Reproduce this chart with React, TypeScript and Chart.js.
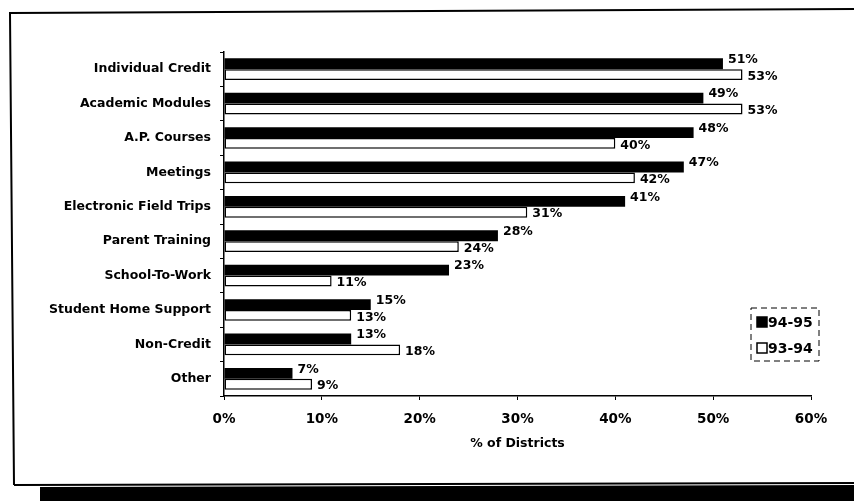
import React, { useEffect, useRef } from "react";
import { Chart, registerables } from "chart.js";

Chart.register(...registerables);

const categories = [
  "Individual Credit",
  "Academic Modules",
  "A.P. Courses",
  "Meetings",
  "Electronic Field Trips",
  "Parent Training",
  "School-To-Work",
  "Student Home Support",
  "Non-Credit",
  "Other",
];
const series9495 = [51, 49, 48, 47, 41, 28, 23, 15, 13, 7];
const series9394 = [53, 53, 40, 42, 31, 24, 11, 13, 18, 9];
const xTicks = [0, 10, 20, 30, 40, 50, 60];
const xTitle = "% of Districts";

const FONT = "'DejaVu Sans', 'Liberation Sans', Arial, sans-serif";

const pagePlugin = {
  id: "page",
  beforeDraw(chart: any) {
    const ctx = chart.ctx;
    ctx.save();
    ctx.fillStyle = "#fff";
    ctx.fillRect(0, 0, chart.width, chart.height);
    ctx.strokeStyle = "#000";
    ctx.lineWidth = 2;
    ctx.beginPath();
    ctx.moveTo(14, 485);
    ctx.lineTo(10, 13);
    ctx.lineTo(854, 9);
    ctx.stroke();
    ctx.beginPath();
    ctx.moveTo(14, 485);
    ctx.lineTo(854, 483);
    ctx.stroke();
    ctx.restore();
  },
  afterDraw(chart: any) {
    const ctx = chart.ctx;
    ctx.save();
    // dark band at the bottom of the scan
    ctx.fillStyle = "#000";
    ctx.beginPath();
    ctx.moveTo(40, 487);
    ctx.lineTo(854, 485);
    ctx.lineTo(854, 501);
    ctx.lineTo(40, 501);
    ctx.closePath();
    ctx.fill();

    // legend
    const ds = chart.data.datasets;
    ctx.strokeStyle = "#000";
    ctx.lineWidth = 1;
    ctx.setLineDash([6, 4]);
    ctx.strokeRect(751, 308, 68, 53);
    ctx.setLineDash([]);
    ctx.font = "bold 14px " + FONT;
    ctx.textBaseline = "middle";
    ctx.textAlign = "left";
    const rows = [322, 348];
    ds.forEach((d: any, i: number) => {
      const y = rows[i];
      ctx.fillStyle = d.backgroundColor;
      ctx.fillRect(757, y - 5, 10, 10);
      ctx.lineWidth = 1.5;
      ctx.strokeStyle = "#000";
      ctx.strokeRect(757, y - 5, 10, 10);
      ctx.fillStyle = "#000";
      ctx.fillText(d.label, 768, y + 1);
    });
    ctx.restore();
  },
  afterDatasetsDraw(chart: any) {
    const ctx = chart.ctx;
    ctx.save();
    ctx.font = "bold 12.5px " + FONT;
    ctx.fillStyle = "#000";
    ctx.textAlign = "left";
    ctx.textBaseline = "middle";
    chart.data.datasets.forEach((d: any, i: number) => {
      const meta = chart.getDatasetMeta(i);
      meta.data.forEach((el: any, j: number) => {
        const dy = i === 0 ? -4 : 2;
        ctx.fillText(d.data[j] + "%", el.x + 5, el.y + dy);
      });
    });
    ctx.restore();
  },
};

export default function App() {
  const ref = useRef<HTMLCanvasElement | null>(null);
  useEffect(() => {
    if (!ref.current) return;
    const chart = new Chart(ref.current, {
      type: "bar",
      data: {
        labels: categories,
        datasets: [
          {
            label: "94-95",
            data: series9495,
            backgroundColor: "#000",
            borderColor: "#000",
            borderWidth: 0,
          },
          {
            label: "93-94",
            data: series9394,
            backgroundColor: "#fff",
            borderColor: "#000",
            borderWidth: 1.5,
            borderSkipped: false,
          },
        ],
      },
      options: {
        indexAxis: "y",
        responsive: false,
        animation: false,
        devicePixelRatio: 1,
        layout: { padding: { left: 0, top: 52, right: 43, bottom: 0 } },
        datasets: { bar: { categoryPercentage: 0.63, barPercentage: 1.0 } },
        plugins: {
          legend: { display: false },
          tooltip: { enabled: false },
          title: { display: false },
        },
        scales: {
          x: {
            min: 0,
            max: 60,
            afterFit(scale: any) {
              scale.height = 105;
            },
            afterBuildTicks(scale: any) {
              scale.ticks = xTicks.map((v) => ({ value: v }));
            },
            ticks: {
              callback: (v: any) => v + "%",
              color: "#000",
              font: { family: FONT, weight: "bold", size: 13.5 },
              padding: 11,
              maxRotation: 0,
            },
            grid: {
              drawOnChartArea: false,
              tickLength: 4,
              color: "#000",
              lineWidth: 1,
            },
            border: { display: true, color: "#000", width: 1.5 },
            title: {
              display: true,
              text: xTitle,
              color: "#000",
              font: { family: FONT, weight: "bold", size: 12.5 },
              padding: { top: 0, bottom: 50 },
            },
          },
          y: {
            afterFit(scale: any) {
              scale.width = 224;
            },
            ticks: {
              color: "#000",
              font: { family: FONT, weight: "bold", size: 12.5 },
              padding: 9,
              autoSkip: false,
            },
            grid: {
              offset: true,
              drawOnChartArea: false,
              tickLength: 4,
              color: "#000",
              lineWidth: 1,
            },
            border: { display: true, color: "#000", width: 1.5 },
          },
        },
      },
      plugins: [pagePlugin],
    } as any);
    return () => chart.destroy();
  }, []);
  return (
    <div style={{ position: "absolute", left: 0, top: 0, width: 854, height: 501 }}>
      <canvas ref={ref} width={854} height={501} style={{ width: 854, height: 501 }} />
    </div>
  );
}
